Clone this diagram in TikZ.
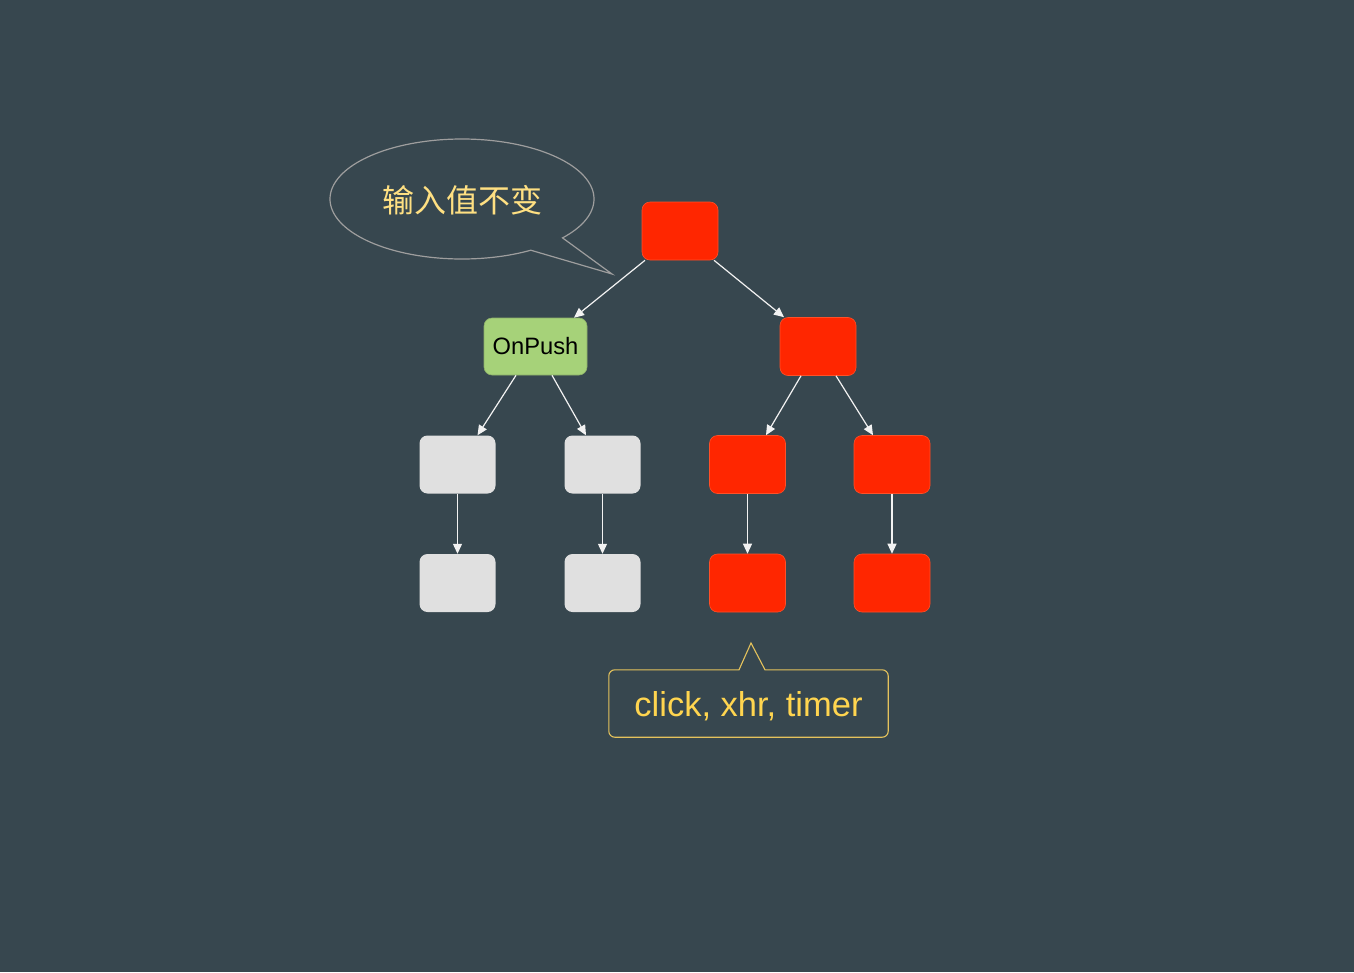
\documentclass[tikz,border=0pt]{standalone}
\usepackage{fontspec}
\setmainfont{Liberation Sans}
\newfontfamily\cjk{Noto Sans CJK SC}
\usetikzlibrary{arrows.meta,calc}
\definecolor{bg}{RGB}{55,71,79}
\definecolor{hot}{RGB}{255,38,0}
\definecolor{hotedge}{RGB}{255,80,40}
\definecolor{cool}{RGB}{224,224,224}
\definecolor{push}{RGB}{166,210,121}
\definecolor{pushedge}{RGB}{140,175,105}
\definecolor{bubbleline}{RGB}{158,158,158}
\definecolor{cjktext}{RGB}{255,224,130}
\definecolor{calloutline}{RGB}{228,194,92}
\definecolor{callouttext}{RGB}{255,213,79}
\begin{document}
\begin{tikzpicture}[x=1pt,y=-1pt,
  box/.style={rounded corners=8pt, minimum width=76pt, minimum height=58pt, inner sep=0pt},
  hotbox/.style={box, fill=hot, draw=hotedge, line width=0.6pt},
  coolbox/.style={box, fill=cool},
  arr/.style={draw=white!95!black, line width=1.2pt, -{Triangle[length=10pt,width=9pt]}},
]
\fill[bg] (0,0) rectangle (1354,972);
\useasboundingbox (0,0) rectangle (1354,972);

% tree nodes
\node[hotbox] (root) at (680,231) {};
\node[box, fill=push, draw=pushedge, line width=0.6pt, minimum width=103pt, minimum height=57pt,
      font=\fontsize{23.7}{28}\selectfont] (onpush) at (535.5,346.5) {OnPush};
\node[hotbox] (r1) at (818,346.5) {};
\node[coolbox] (g1) at (457.5,464.5) {};
\node[coolbox] (g2) at (602.5,464.5) {};
\node[hotbox] (r2) at (747.5,464.5) {};
\node[hotbox] (r3) at (892,464.5) {};
\node[coolbox] (g3) at (457.5,583) {};
\node[coolbox] (g4) at (602.5,583) {};
\node[hotbox] (r4) at (747.5,583) {};
\node[hotbox] (r5) at (892,583) {};

% connectors
\draw[arr] ([xshift=-35pt]root.south) -- ([xshift=38.5pt]onpush.north);
\draw[arr] ([xshift=34pt]root.south) -- ([xshift=-34pt]r1.north);
\draw[arr] ([xshift=-19.5pt]onpush.south) -- ([xshift=20pt]g1.north);
\draw[arr] ([xshift=16.5pt]onpush.south) -- ([xshift=-16.5pt]g2.north);
\draw[arr] ([xshift=-17pt]r1.south) -- ([xshift=18.5pt]r2.north);
\draw[arr] ([xshift=18pt]r1.south) -- ([xshift=-19pt]r3.north);
\draw[arr] (g1.south) -- (g3.north);
\draw[arr] (g2.south) -- (g4.north);
\draw[arr] (r2.south) -- (r4.north);
\draw[arr] (r3.south) -- (r5.north);

% speech bubble
\draw[bubbleline, line width=1.2pt, line join=miter]
  plot[domain=40.4:-301.4, samples=150, smooth] ({462+132*cos(\x)},{199+60*sin(\x)})
  -- (612,274) -- cycle;
\node[text=cjktext, font=\cjk\fontsize{32}{36}\selectfont] (say) at (462,200) {输入值不变};

% callout
\node[minimum width=279pt, minimum height=67pt, inner sep=0pt, text=callouttext,
      font=\fontsize{34.5}{40}\selectfont] (tag) at (748.5,703.5) {\raisebox{-3pt}[\height][\depth]{click, xhr, timer}};
\coordinate (tip) at (751,643);
\draw[calloutline, line width=1.1pt, line join=miter, rounded corners=6pt]
  ([xshift=16.5pt]tag.north) -- (tag.north east) -- (tag.south east) -- (tag.south west)
  -- (tag.north west) [sharp corners] -- ([xshift=-9.5pt]tag.north) -- (tip) -- cycle;
\end{tikzpicture}
\end{document}
